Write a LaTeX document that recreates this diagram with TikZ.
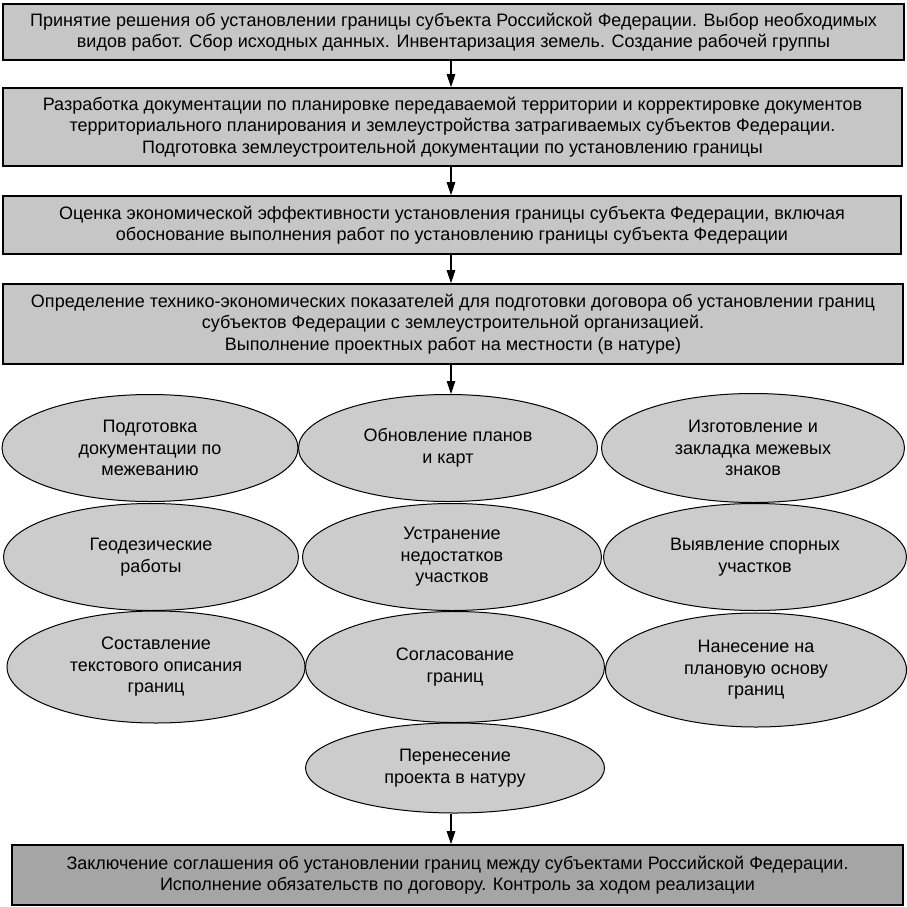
\documentclass[tikz,border=0pt]{standalone}
\usepackage{fontspec}
\setmainfont{Liberation Sans}
\usetikzlibrary{shapes.geometric,arrows.meta}
\definecolor{boxfill}{RGB}{198,198,198}
\definecolor{finfill}{RGB}{165,165,165}
\definecolor{ellfill}{RGB}{204,204,204}
\begin{document}
\begin{tikzpicture}[x=1pt,y=-1pt,
  txt/.style={font=\fontsize{18}{21.5}\selectfont, align=center, text=black},
  stagebox/.style={txt, draw=black, line width=1.6pt, fill=boxfill, rectangle, inner sep=0pt},
  workell/.style={txt, draw=black, line width=1pt, fill=ellfill, ellipse, inner sep=0pt},
  arr/.style={draw=black, line width=1.2pt, -{Triangle[length=13pt,width=8.5pt]}}]
\useasboundingbox (0,0) rectangle (907,907);
\coordinate (ax) at (451,0);
\node[stagebox, minimum width=901pt, minimum height=56pt] (b1) at (453.5,32)
  {Принятие решения об установлении границы субъекта Российской Федерации. Выбор необходимых\\ видов работ. Сбор исходных данных. Инвентаризация земель. Создание рабочей группы};
\node[stagebox, minimum width=899pt, minimum height=78pt] (b2) at (452.5,127)
  {Разработка документации по планировке передаваемой территории и корректировке документов\\ территориального планирования и землеустройства затрагиваемых субъектов Федерации.\\ Подготовка землеустроительной документации по установлению границы};
\node[stagebox, minimum width=898pt, minimum height=58pt] (b3) at (452,225)
  {Оценка экономической эффективности установления границы субъекта Федерации, включая\\ обоснование выполнения работ по установлению границы субъекта Федерации};
\node[stagebox, minimum width=900pt, minimum height=80pt] (b4) at (453,324)
  {Определение технико-экономических показателей для подготовки договора об установлении границ\\ субъектов Федерации с землеустроительной организацией.\\ Выполнение проектных работ на местности (в натуре)};
% ellipses
\node[workell, minimum width=296pt, minimum height=107pt] (e11) at (150,448) {Подготовка\\ документации по\\ межеванию};
\node[workell, minimum width=299pt, minimum height=107pt] (e12) at (448,448) {Обновление планов\\ и карт};
\node[workell, minimum width=303pt, minimum height=109pt] (e13) at (753,448) {Изготовление и\\ закладка межевых\\ знаков};
\node[workell, minimum width=295pt, minimum height=107pt] (e21) at (151,557) {Геодезические\\ работы};
\node[workell, minimum width=299pt, minimum height=107pt] (e22) at (452,557) {Устранение\\ недостатков\\ участков};
\node[workell, minimum width=303pt, minimum height=107pt] (e23) at (755,557) {Выявление спорных\\ участков};
\node[workell, minimum width=298pt, minimum height=112pt] (e31) at (156,667) {Составление\\ текстового описания\\ границ};
\node[workell, minimum width=299pt, minimum height=111pt] (e32) at (455,667) {Согласование\\ границ};
\node[workell, minimum width=301pt, minimum height=114pt] (e33) at (756,670) {Нанесение на\\ плановую основу\\ границ};
\node[workell, minimum width=299pt, minimum height=90pt] (e4) at (455,768) {Перенесение\\ проекта в натуру};
\node[stagebox, fill=finfill, minimum width=891pt, minimum height=60pt] (b5) at (457.5,875)
  {Заключение соглашения об установлении границ между субъектами Российской Федерации.\\ Исполнение обязательств по договору. Контроль за ходом реализации};
\draw[arr] (b1.south -| ax) -- (b2.north -| ax);
\draw[arr] (b2.south -| ax) -- (b3.north -| ax);
\draw[arr] (b3.south -| ax) -- (b4.north -| ax);
\draw[arr] (b4.south -| ax) -- (e12.north -| ax);
\draw[arr] (e4.south -| ax) -- (b5.north -| ax);
\end{tikzpicture}
\end{document}
